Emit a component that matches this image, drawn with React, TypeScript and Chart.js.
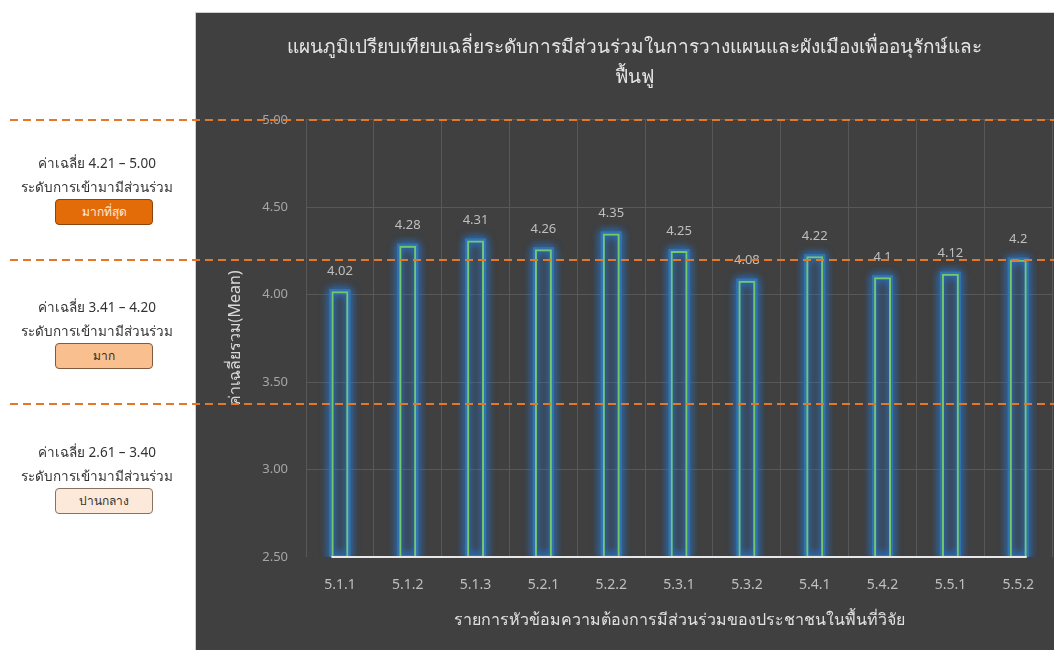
import React, { useEffect, useRef } from "react";
import { Chart, registerables } from "chart.js";

Chart.register(...registerables);

const categories = ["5.1.1", "5.1.2", "5.1.3", "5.2.1", "5.2.2", "5.3.1", "5.3.2", "5.4.1", "5.4.2", "5.5.1", "5.5.2"];
const meanValues = [4.02, 4.28, 4.31, 4.26, 4.35, 4.25, 4.08, 4.22, 4.1, 4.12, 4.2];
const yMin = 2.5;
const yMax = 5.0;
const yStep = 0.5;
const levelLines = [5.0, 4.2, 3.375];
const levelRanges = ["ค่าเฉลี่ย 4.21 – 5.00", "ค่าเฉลี่ย 3.41 – 4.20", "ค่าเฉลี่ย 2.61 – 3.40"];
const levelNames = ["มากที่สุด", "มาก", "ปานกลาง"];
const levelCaption = "ระดับการเข้ามามีส่วนร่วม";
const titleLines = [
  "แผนภูมิเปรียบเทียบเฉลี่ยระดับการมีส่วนร่วมในการวางแผนและผังเมืองเพื่ออนุรักษ์และ",
  "ฟื้นฟู",
];
const yTitle = "ค่าเฉลี่ยรวม(Mean)";
const xTitle = "รายการหัวข้อมความต้องการมีส่วนร่วมของประชาชนในพื้นที่วิจัย";

const FONT = "'Noto Sans', 'DejaVu Sans', sans-serif";
const boxStyles = [
  { bg: "#e36c09", border: "#8a4510", color: "#fde9d9" },
  { bg: "#fabf8f", border: "#7f5a3f", color: "#3a2a1a" },
  { bg: "#fde9d9", border: "#8a7262", color: "#333333" },
];
const blockTops = [151, 295, 440];

const panelPlugin = {
  id: "panelPlugin",
  beforeDraw(chart: any) {
    const { ctx, width, height } = chart;
    ctx.save();
    ctx.fillStyle = "#404040";
    ctx.fillRect(195, 12, width - 195, height - 12);
    ctx.strokeStyle = "#cfcfcf";
    ctx.lineWidth = 1;
    ctx.strokeRect(195.5, 12.5, width - 195, height - 12);
    ctx.restore();
  },
  beforeDatasetsDraw(chart: any) {
    const { ctx, chartArea } = chart;
    const meta = chart.getDatasetMeta(0);
    ctx.save();
    ctx.beginPath();
    ctx.rect(chartArea.left, chartArea.top - 20, chartArea.right - chartArea.left, chartArea.bottom - chartArea.top + 20);
    ctx.clip();
    meta.data.forEach((el: any) => {
      const p = el.getProps(["x", "y", "base", "width"], true);
      const l = p.x - p.width / 2;
      const b = Math.min(p.base, chartArea.bottom);
      for (let k = 0; k < 2; k++) {
        ctx.shadowColor = "rgba(35,125,225,1)";
        ctx.shadowBlur = 8;
        ctx.strokeStyle = "rgba(50,115,175,0.85)";
        ctx.lineWidth = 4;
        ctx.strokeRect(l, p.y, p.width, b - p.y);
      }
    });
    ctx.restore();
  },
  afterDatasetsDraw(chart: any) {
    const { ctx } = chart;
    const meta = chart.getDatasetMeta(0);
    const yScale = chart.scales.y;
    const first = meta.data[0].getProps(["x", "width"], true);
    const last = meta.data[meta.data.length - 1].getProps(["x", "width"], true);
    const by = yScale.getPixelForValue(yMin);
    ctx.save();
    ctx.strokeStyle = "#e8e8e8";
    ctx.lineWidth = 2;
    ctx.beginPath();
    ctx.moveTo(first.x - first.width / 2, by);
    ctx.lineTo(last.x + last.width / 2, by);
    ctx.stroke();
    ctx.font = `13px ${FONT}`;
    ctx.fillStyle = "#bfbfbf";
    ctx.textAlign = "center";
    ctx.textBaseline = "middle";
    meta.data.forEach((el: any, i: number) => {
      const p = el.getProps(["x", "y"], true);
      ctx.fillText(String(meanValues[i]), p.x, p.y - 20);
    });
    ctx.restore();
  },
  afterDraw(chart: any) {
    const { ctx, width } = chart;
    const yScale = chart.scales.y;
    ctx.save();
    ctx.strokeStyle = "#e3782a";
    ctx.lineWidth = 2;
    ctx.setLineDash([8, 5]);
    levelLines.forEach((v) => {
      const y = Math.round(yScale.getPixelForValue(v));
      ctx.beginPath();
      ctx.moveTo(10, y);
      ctx.lineTo(width, y);
      ctx.stroke();
    });
    ctx.restore();
  },
};

export default function App() {
  const canvasRef = useRef<HTMLCanvasElement | null>(null);

  useEffect(() => {
    document.body.style.margin = "0";
    const canvas = canvasRef.current;
    if (!canvas) return;
    const gridColor = "#585858";
    const chart = new Chart(canvas, {
      type: "bar",
      data: {
        labels: categories,
        datasets: [
          {
            data: meanValues,
            backgroundColor: "rgba(0,0,0,0)",
            borderColor: "#74c86c",
            borderWidth: 2,
            barPercentage: 0.25,
            categoryPercentage: 1,
          },
        ],
      },
      options: {
        animation: false,
        responsive: false,
        devicePixelRatio: 1,
        layout: { padding: { left: 214, top: 0, right: 0, bottom: 0 } },
        plugins: {
          legend: { display: false },
          tooltip: { enabled: false },
          title: {
            display: true,
            text: titleLines,
            color: "#e6e6e6",
            font: { family: FONT, size: 19, weight: "normal", lineHeight: 1.6 },
            padding: { top: 32, bottom: 27 },
          },
        },
        scales: {
          x: {
            offset: true,
            grid: { offset: true, color: gridColor, drawTicks: false },
            border: { display: false },
            ticks: { color: "#bfbfbf", font: { family: FONT, size: 14 }, padding: 20 },
            title: {
              display: true,
              text: xTitle,
              color: "#e0e0e0",
              font: { family: FONT, size: 16 },
              padding: { top: 0, bottom: 20 },
            },
            afterFit: (s: any) => {
              s.height = 93;
            },
          },
          y: {
            min: yMin,
            max: yMax,
            grid: {
              color: (c: any) => (c.tick && c.tick.value === yMin ? "rgba(0,0,0,0)" : gridColor),
              drawTicks: false,
            },
            border: { display: false },
            ticks: {
              stepSize: yStep,
              color: "#a6a6a6",
              font: { family: FONT, size: 13 },
              padding: 18,
              callback: (v: any) => Number(v).toFixed(2),
            },
            title: {
              display: true,
              text: yTitle,
              color: "#d9d9d9",
              font: { family: FONT, size: 16 },
              padding: { top: 12, bottom: 0 },
            },
            afterFit: (s: any) => {
              s.width = 92;
            },
          },
        },
      } as any,
      plugins: [panelPlugin],
    });
    return () => chart.destroy();
  }, []);

  return (
    <div style={{ position: "relative", width: 1054, height: 650, overflow: "hidden", background: "#ffffff" }}>
      <canvas ref={canvasRef} width={1054} height={650} style={{ position: "absolute", left: 0, top: 0 }} />
      {levelRanges.map((r, i) => (
        <div
          key={i}
          style={{
            position: "absolute",
            left: 0,
            top: blockTops[i],
            width: 195,
            fontFamily: FONT,
            color: "#333333",
            fontSize: 13.5,
          }}
        >
          <div style={{ width: 194, textAlign: "center", lineHeight: "24px" }}>{r}</div>
          <div style={{ width: 194, textAlign: "center", lineHeight: "24px" }}>{levelCaption}</div>
          <div
            style={{
              position: "absolute",
              left: 55,
              top: 48,
              width: 96,
              height: 24,
              background: boxStyles[i].bg,
              border: `1px solid ${boxStyles[i].border}`,
              borderRadius: 4,
              color: boxStyles[i].color,
              fontSize: 12,
              textAlign: "center",
              lineHeight: "24px",
            }}
          >
            {levelNames[i]}
          </div>
        </div>
      ))}
    </div>
  );
}
